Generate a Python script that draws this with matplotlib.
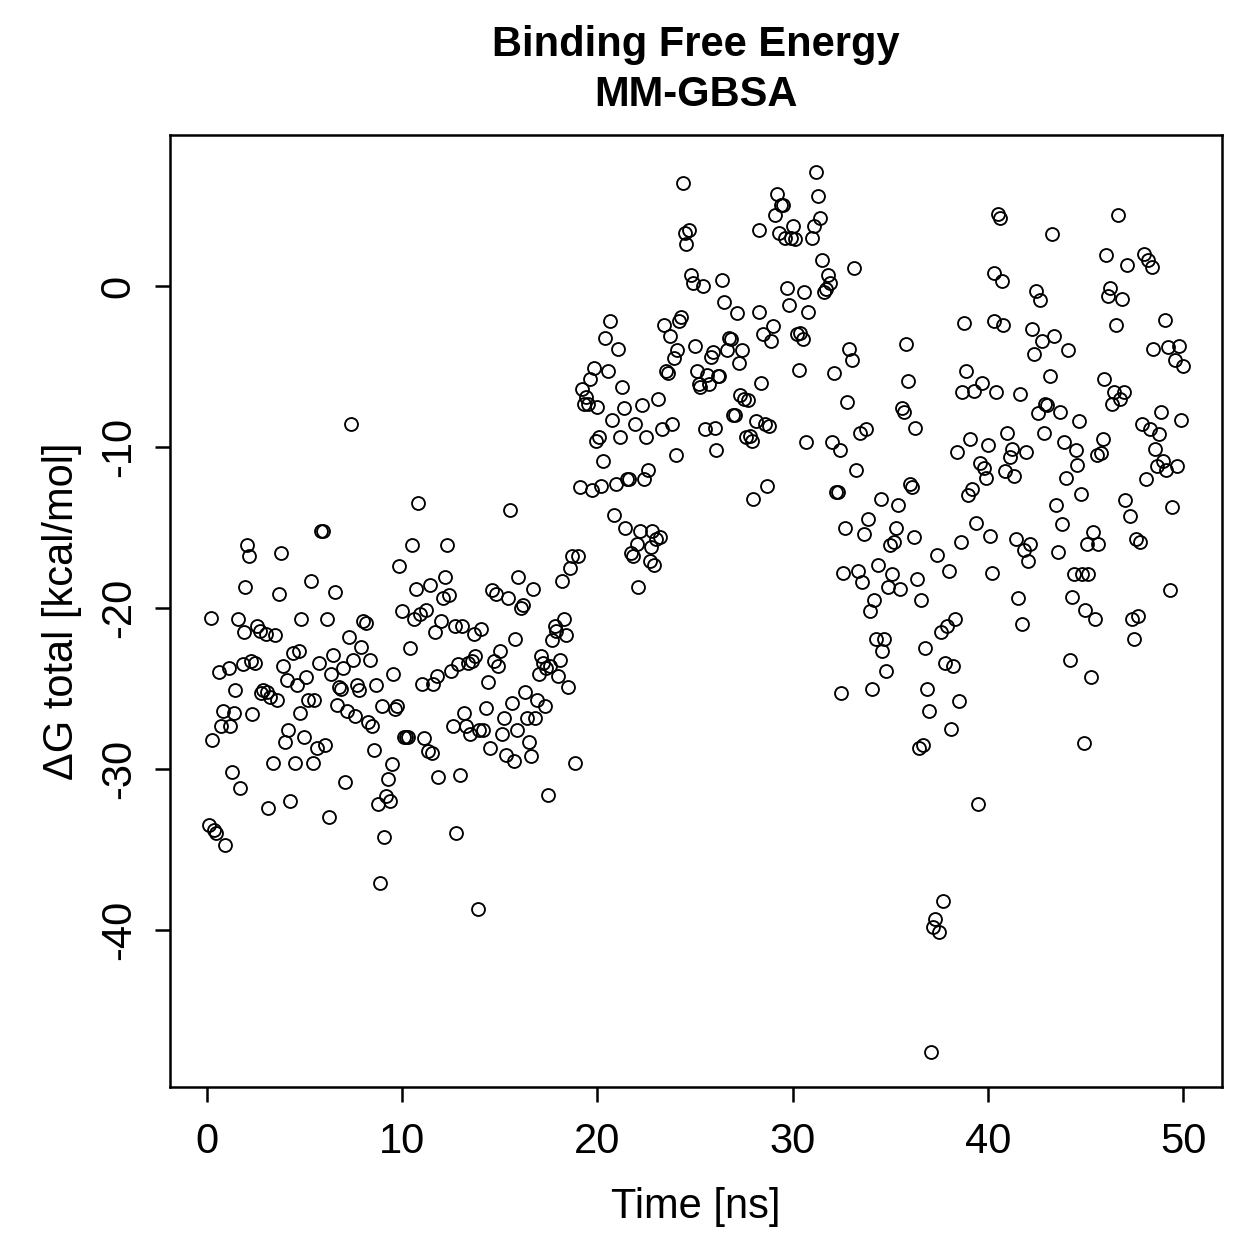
import matplotlib
matplotlib.use("Agg")
import matplotlib.pyplot as plt

plt.rcParams['font.family'] = ['Liberation Sans', 'DejaVu Sans']

# Temps (ns) et energie libre de liaison (kcal/mol)
time_ns = [
    0.1, 0.2, 0.25, 0.35, 0.45, 0.6, 0.7, 0.8, 0.9, 1.1, 1.2, 1.3, 1.4, 1.45, 1.6, 1.7, 1.85, 1.9, 1.95, 2.05,
    2.15, 2.25, 2.3, 2.45, 2.55, 2.7, 2.75, 2.85, 3.0, 3.05, 3.1, 3.2, 3.4, 3.5, 3.6, 3.7, 3.8, 3.9, 4.0, 4.1,
    4.15, 4.25, 4.4, 4.5, 4.6, 4.7, 4.75, 4.8, 4.95, 5.05, 5.15, 5.3, 5.45, 5.5, 5.65, 5.75, 5.85, 5.95, 6.05, 6.15,
    6.25, 6.35, 6.45, 6.55, 6.65, 6.75, 6.85, 6.95, 7.05, 7.15, 7.25, 7.35, 7.5, 7.6, 7.7, 7.8, 7.9, 8.0, 8.15, 8.25,
    8.35, 8.45, 8.55, 8.65, 8.75, 8.85, 8.95, 9.05, 9.15, 9.25, 9.35, 9.45, 9.55, 9.65, 9.75, 9.85, 10.0, 10.1, 10.2, 10.3,
    10.4, 10.5, 10.6, 10.7, 10.8, 10.9, 11.0, 11.1, 11.2, 11.3, 11.4, 11.5, 11.6, 11.7, 11.8, 11.85, 12.0, 12.1, 12.2, 12.3,
    12.4, 12.5, 12.6, 12.7, 12.75, 12.85, 12.95, 13.05, 13.15, 13.25, 13.35, 13.45, 13.55, 13.65, 13.75, 13.9, 13.95, 14.05, 14.15, 14.3,
    14.4, 14.5, 14.6, 14.7, 14.8, 14.9, 15.0, 15.1, 15.2, 15.3, 15.4, 15.5, 15.6, 15.7, 15.8, 15.9, 15.95, 16.1, 16.2, 16.3,
    16.4, 16.5, 16.6, 16.7, 16.8, 16.9, 17.0, 17.1, 17.2, 17.3, 17.35, 17.45, 17.55, 17.65, 17.8, 17.9, 18.0, 18.1, 18.2, 18.3,
    18.4, 18.5, 18.6, 18.7, 18.85, 19.0, 19.1, 19.2, 19.3, 19.4, 19.5, 19.6, 19.7, 19.8, 19.9, 20.0, 20.1, 20.2, 20.3, 20.4,
    20.55, 20.65, 20.75, 20.85, 20.95, 21.05, 21.15, 21.25, 21.35, 21.4, 21.5, 21.6, 21.7, 21.8, 21.9, 22.0, 22.1, 22.2, 22.3, 22.4,
    22.5, 22.6, 22.7, 22.75, 22.8, 22.9, 23.0, 23.1, 23.2, 23.3, 23.4, 23.5, 23.6, 23.7, 23.8, 23.9, 24.0, 24.1, 24.2, 24.3,
    24.4, 24.5, 24.55, 24.7, 24.8, 24.9, 25.0, 25.1, 25.2, 25.25, 25.4, 25.5, 25.6, 25.7, 25.8, 25.9, 26.0, 26.05, 26.15, 26.25,
    26.4, 26.5, 26.65, 26.75, 26.85, 26.95, 27.05, 27.15, 27.25, 27.3, 27.4, 27.5, 27.6, 27.7, 27.8, 27.9, 27.95, 28.1, 28.25, 28.3,
    28.4, 28.5, 28.6, 28.7, 28.8, 28.9, 29.0, 29.1, 29.2, 29.3, 29.4, 29.5, 29.6, 29.7, 29.8, 29.9, 30.0, 30.1, 30.2, 30.3,
    30.4, 30.55, 30.6, 30.7, 30.8, 31.0, 31.1, 31.2, 31.3, 31.4, 31.5, 31.6, 31.7, 31.8, 31.9, 32.0, 32.1, 32.2, 32.3, 32.4,
    32.5, 32.6, 32.7, 32.8, 32.9, 33.05, 33.15, 33.25, 33.35, 33.45, 33.55, 33.65, 33.75, 33.85, 33.95, 34.05, 34.15, 34.25, 34.35, 34.5,
    34.6, 34.7, 34.8, 34.9, 35.0, 35.1, 35.2, 35.3, 35.4, 35.5, 35.6, 35.7, 35.8, 35.9, 36.0, 36.1, 36.2, 36.25, 36.35, 36.45,
    36.6, 36.7, 36.8, 36.9, 37.0, 37.1, 37.2, 37.3, 37.4, 37.5, 37.6, 37.7, 37.8, 37.9, 38.0, 38.1, 38.2, 38.3, 38.4, 38.5,
    38.6, 38.7, 38.8, 38.9, 39.0, 39.1, 39.2, 39.3, 39.4, 39.5, 39.6, 39.7, 39.8, 39.9, 40.0, 40.1, 40.2, 40.3, 40.3, 40.4,
    40.5, 40.6, 40.7, 40.8, 40.9, 41.0, 41.15, 41.25, 41.35, 41.45, 41.55, 41.65, 41.75, 41.85, 41.95, 42.05, 42.15, 42.25, 42.35, 42.45,
    42.55, 42.65, 42.75, 42.85, 42.95, 43.05, 43.2, 43.3, 43.4, 43.5, 43.6, 43.7, 43.8, 43.9, 44.0, 44.1, 44.2, 44.3, 44.4, 44.5,
    44.55, 44.65, 44.75, 44.8, 44.9, 45.0, 45.1, 45.15, 45.3, 45.4, 45.5, 45.6, 45.65, 45.8, 45.9, 45.95, 46.05, 46.15, 46.25, 46.35,
    46.45, 46.55, 46.65, 46.75, 46.85, 46.95, 47.05, 47.15, 47.3, 47.4, 47.5, 47.6, 47.7, 47.8, 47.9, 48.0, 48.1, 48.2, 48.3, 48.4,
    48.45, 48.55, 48.65, 48.75, 48.85, 48.95, 49.05, 49.15, 49.25, 49.35, 49.45, 49.6, 49.7, 49.8, 49.9, 50.0,
]

delta_g = [
    -33.5, -20.6, -28.2, -33.8, -34.0, -24.0, -27.3, -26.4, -34.7, -23.7, -27.3, -30.2, -26.5, -25.1, -20.7, -31.2, -23.5, -21.5, -18.7, -16.1,
    -16.8, -23.3, -26.6, -23.4, -21.1, -21.4, -25.3, -25.1, -21.6, -25.2, -32.4, -25.5, -29.6, -21.7, -25.7, -19.1, -16.6, -23.6, -28.3, -24.5,
    -27.6, -32.0, -22.8, -29.6, -24.8, -22.7, -26.5, -20.7, -28.0, -24.3, -25.7, -18.3, -29.6, -25.7, -28.7, -23.4, -15.2, -15.2, -28.5, -20.7,
    -33.0, -24.1, -22.9, -19.0, -26.0, -24.9, -25.0, -23.7, -30.8, -26.4, -21.8, -8.6, -23.2, -26.7, -24.8, -25.1, -22.4, -20.8, -20.9, -27.1,
    -23.2, -27.3, -28.8, -24.8, -32.2, -37.1, -26.1, -34.2, -31.7, -30.6, -32.0, -29.7, -24.1, -26.3, -26.1, -17.4, -20.2, -28.0, -28.0, -28.0,
    -22.5, -16.1, -20.7, -18.8, -13.5, -20.4, -24.7, -28.1, -20.1, -28.9, -18.6, -29.0, -24.7, -21.5, -24.2, -30.5, -20.8, -19.4, -18.1, -16.1,
    -19.2, -23.9, -27.3, -21.1, -34.0, -23.5, -30.4, -21.1, -26.5, -27.3, -23.4, -27.8, -23.3, -21.6, -23.0, -38.7, -27.6, -21.3, -27.6, -26.2,
    -24.6, -28.7, -18.9, -23.3, -19.1, -23.6, -22.7, -27.8, -26.8, -29.1, -19.4, -13.9, -25.9, -29.5, -21.9, -27.6, -18.1, -20.0, -19.8, -25.2,
    -26.8, -28.3, -29.2, -18.8, -26.8, -25.7, -24.1, -23.0, -23.4, -26.1, -23.7, -31.6, -23.6, -22.0, -21.1, -21.4, -24.2, -23.2, -18.3, -20.7,
    -21.7, -24.9, -17.5, -16.8, -29.6, -16.8, -12.5, -6.4, -7.3, -6.9, -7.3, -5.8, -12.7, -5.1, -9.6, -7.5, -9.4, -12.4, -10.9, -3.2,
    -5.3, -2.2, -8.3, -14.2, -12.3, -3.9, -9.4, -6.3, -7.6, -15.0, -12.0, -12.0, -16.6, -16.8, -8.6, -16.0, -18.7, -15.2, -7.4, -12.0,
    -9.4, -11.4, -17.1, -16.2, -15.2, -17.3, -15.7, -7.0, -15.6, -8.9, -2.4, -5.3, -5.4, -3.1, -8.6, -4.5, -10.5, -4.0, -2.2, -1.9,
    6.4, 3.3, 2.6, 3.5, 0.7, 0.2, -3.7, -5.3, -6.1, -6.3, 0.0, -8.9, -5.5, -6.1, -4.4, -4.1, -8.8, -10.2, -5.6, -5.6,
    0.4, -1.0, -4.0, -3.2, -3.3, -8.0, -8.0, -1.7, -4.8, -6.8, -4.0, -7.0, -9.4, -7.1, -9.3, -9.6, -13.2, -8.4, 3.5, -1.6,
    -6.0, -3.0, -8.6, -12.4, -8.7, -3.4, -2.5, 4.4, 5.7, 3.3, 5.0, 5.0, 3.0, -0.1, -1.2, 3.0, 3.7, 2.9, -3.0, -5.2,
    -2.9, -3.3, -0.4, -9.7, -1.6, 3.0, 3.7, 7.1, 5.6, 4.2, 1.6, -0.4, -0.2, 0.7, 0.2, -9.7, -5.4, -12.8, -12.8, -10.2,
    -25.3, -17.8, -15.0, -7.2, -3.9, -4.6, 1.1, -11.4, -17.7, -9.1, -18.4, -15.4, -8.9, -14.5, -20.2, -25.0, -19.5, -21.9, -17.3, -13.2,
    -22.7, -21.9, -23.9, -18.7, -16.1, -17.9, -15.9, -15.0, -13.6, -18.8, -7.6, -7.8, -3.6, -5.9, -12.3, -12.5, -15.6, -8.8, -18.2, -28.7,
    -19.5, -28.5, -22.5, -25.0, -26.4, -47.6, -39.8, -39.3, -16.7, -40.1, -21.5, -38.2, -23.4, -21.1, -17.7, -27.5, -23.6, -20.7, -10.3, -25.8,
    -15.9, -6.6, -2.3, -5.3, -13.0, -9.5, -12.6, -6.5, -14.7, -32.2, -11.0, -6.0, -11.3, -11.9, -9.9, -15.5, -17.8, 0.8, -2.2, -6.6,
    4.5, 4.2, 0.3, -2.4, -11.5, -9.1, -10.6, -10.1, -11.8, -15.7, -19.4, -6.7, -21.0, -16.4, -10.3, -17.1, -16.0, -2.7, -4.2, -0.3,
    -7.9, -0.9, -3.4, -9.1, -7.3, -7.4, -5.6, 3.2, -3.1, -13.6, -16.5, -7.8, -14.8, -9.7, -11.9, -4.0, -23.2, -19.3, -17.9, -10.2,
    -11.1, -8.4, -12.9, -17.9, -28.4, -20.1, -16.0, -17.9, -24.3, -15.3, -20.7, -10.5, -16.0, -10.4, -9.5, -5.8, 1.9, -0.6, -0.1, -7.3,
    -6.6, -2.4, 4.4, -7.0, -0.8, -6.6, -13.3, 1.3, -14.3, -20.7, -21.9, -15.7, -20.5, -15.9, -8.6, 2.0, -12.0, 1.6, -8.9, 1.2,
    -3.9, -10.1, -11.2, -9.2, -7.8, -10.9, -2.1, -11.4, -3.8, -18.9, -13.7, -4.6, -11.2, -3.7, -8.3, -5.0,
]

x_ticks = [0, 10, 20, 30, 40, 50]
y_ticks = [0, -10, -20, -30, -40]

fig = plt.figure(figsize=(1259 / 300, 1259 / 300), dpi=300)
ax = fig.add_axes([0.135, 0.1366, 0.8357, 0.7562])

# Cercles vides comme pch=1 dans R
ax.plot(time_ns, delta_g, linestyle='none', marker='o', markersize=3.1,
        markerfacecolor='none', markeredgecolor='black', markeredgewidth=0.45)

ax.set_xlim(-1.9, 52.0)
ax.set_ylim(-49.75, 9.38)
ax.set_xticks(x_ticks)
ax.set_yticks(y_ticks)
ax.set_yticklabels([str(v) for v in y_ticks], rotation=90, va='center')
ax.tick_params(direction='out', length=3.5, width=0.6, labelsize=10, colors='black')
ax.tick_params(axis='x', pad=5)
ax.tick_params(axis='y', pad=4)

for s in ax.spines.values():
    s.set_linewidth(0.6)

ax.set_xlabel("Time [ns]", fontsize=10, labelpad=6)
ax.set_ylabel("ΔG total [kcal/mol]", fontsize=10, labelpad=4)
ax.set_title("Binding Free Energy\nMM-GBSA", fontsize=10, fontweight='bold', pad=7, linespacing=1.3)

fig.savefig("out.png", dpi=300)
